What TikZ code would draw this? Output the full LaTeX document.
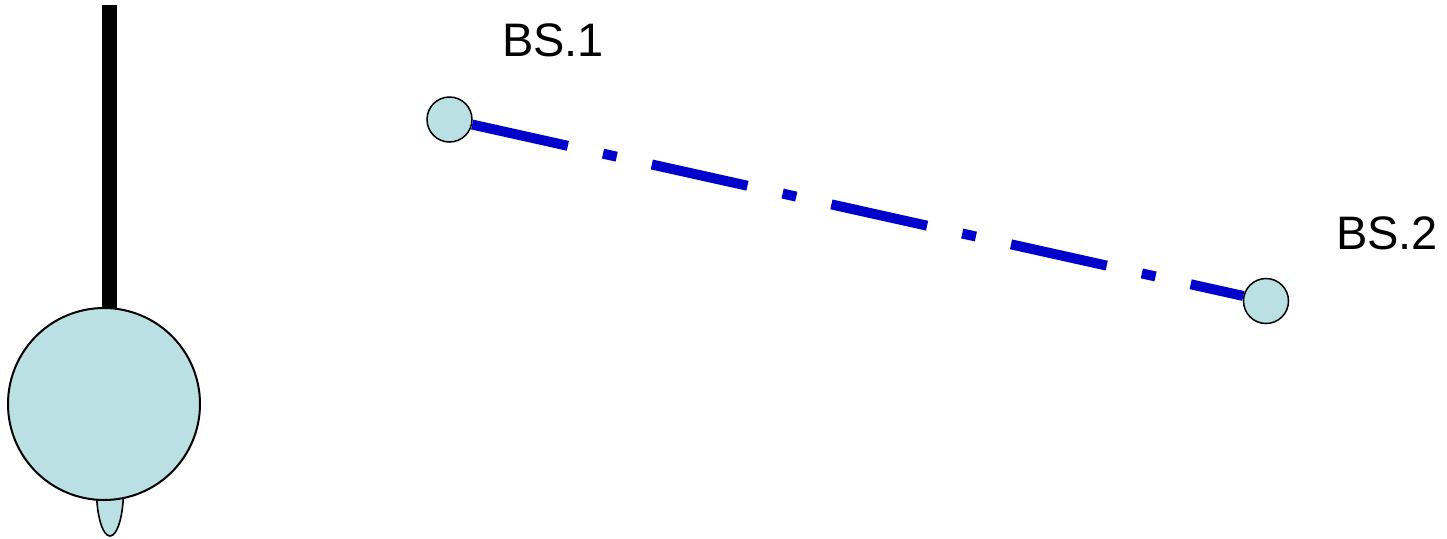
\documentclass[tikz,border=0pt]{standalone}
\usepackage{fontspec}
\setmainfont{Liberation Sans}
\usetikzlibrary{positioning}
\definecolor{stationfill}{RGB}{187,224,227}
\definecolor{linkblue}{RGB}{0,0,204}

\begin{document}
\begin{tikzpicture}[
    x=0.5pt, y=-0.5pt,
    station/.style={circle,draw,line width=0.75pt,fill=stationfill,
                    minimum size=22.5pt,inner sep=0pt},
    tag/.style={font=\fontsize{23.5}{28}\selectfont,inner sep=0pt},
    link/.style={linkblue,line width=5pt,
                 dash pattern=on 49pt off 18pt on 7pt off 18pt},
  ]
  \useasboundingbox (0,0) rectangle (1447,538);

  % --- mast with its body on the left ---
  \fill (102,5) rectangle (117,312);
  \draw[fill=stationfill,line width=0.8pt] (110,490) ellipse[x radius=13.5,y radius=46];
  \draw[fill=stationfill,line width=1pt] (104,404) circle[radius=96];

  % --- base stations ---
  \node[station] (bs1) at (449.5,119.5) {};
  \node[station] (bs2) at (1266,301) {};
  \node[tag] (bs1tag) at (553,40)  {BS.1};
  \node[tag] (bs2tag) at (1387,233) {BS.2};

  % --- link between them ---
  \draw[link] (bs1) -- (bs2);
\end{tikzpicture}
\end{document}
